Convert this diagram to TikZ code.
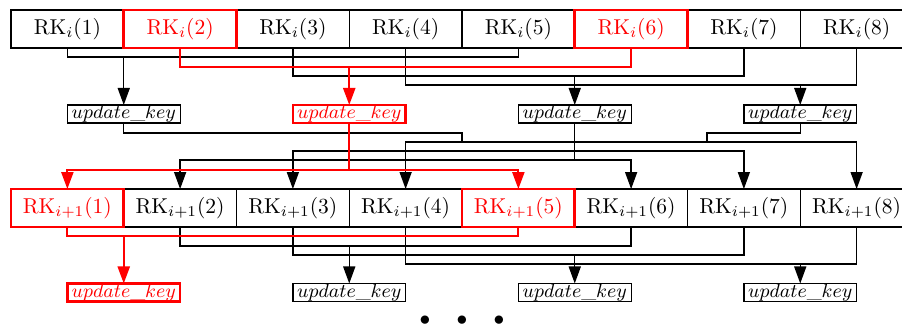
\documentclass[tikz,border=0pt]{standalone}
\usetikzlibrary{arrows.meta,calc}
\begin{document}
\begin{tikzpicture}[x=0.465pt,y=-0.465pt,
  rk/.style={draw,line width=0.65pt,minimum width=52.43pt,minimum height=17.67pt,inner sep=0pt,outer sep=0pt},
  rkred/.style={rk,draw=red,text=red,line width=1.2pt},
  uk/.style={draw,line width=0.65pt,minimum width=52.5pt,minimum height=8.4pt,inner sep=0pt,outer sep=0pt,font=\small},
  ukred/.style={uk,draw=red,text=red,line width=1.2pt},
  wire/.style={line width=0.65pt},
  arr/.style={wire,-{Triangle[length=7.9pt,width=5.6pt]}},
  rwire/.style={red,line width=1pt},
  rarr/.style={rwire,-{Triangle[length=7.9pt,width=5.6pt]}},
]
\useasboundingbox (0,0) rectangle (902,325);
\clip (0,0) rectangle (902,325);
% row i
\foreach \k in {1,3,4,5,7,8}
  \node[rk] (a\k) at ({11+112.75*(\k-0.5)},29) {$\mathrm{RK}_i(\k)$};
\foreach \k in {2,6}
  \node[rkred] (a\k) at ({11+112.75*(\k-0.5)},29) {$\mathrm{RK}_i(\k)$};
% row i+1
\foreach \k in {2,3,4,6,7,8}
  \node[rk] (b\k) at ({11+112.75*(\k-0.5)},208) {$\mathrm{RK}_{i+1}(\k)$};
\foreach \k in {1,5}
  \node[rkred] (b\k) at ({11+112.75*(\k-0.5)},208) {$\mathrm{RK}_{i+1}(\k)$};
% update_key boxes
\node[uk] (u1) at (123.75,114) {$update\_key$};
\node[ukred] (u2) at (349.25,114) {$update\_key$};
\node[uk] (u3) at (574.75,114) {$update\_key$};
\node[uk] (u4) at (800.25,114) {$update\_key$};
\node[ukred] (v1) at (123.75,292.5) {$update\_key$};
\node[uk] (v2) at (349.25,292.5) {$update\_key$};
\node[uk] (v3) at (574.75,292.5) {$update\_key$};
\node[uk] (v4) at (800.25,292.5) {$update\_key$};
% top section
\draw[wire] (a1.south) |- (a5.south |- 0,57) -- (a5.south);
\draw[arr] (u1.north |- 0,57) -- (u1.north);
\draw[wire] (a3.south) |- (a7.south |- 0,76) -- (a7.south);
\draw[arr] (u3.north |- 0,76) -- (u3.north);
\draw[wire] (a4.south) |- (a8.south |- 0,85) -- (a8.south);
\draw[arr] (u4.north |- 0,85) -- (u4.north);
\draw[rwire] (a2.south) |- (a6.south |- 0,67) -- (a6.south);
\draw[rarr] (u2.north |- 0,67) -- (u2.north);
% middle section
\draw[wire] (u3.south) -- (u3.south |- 0,160);
\draw[arr] (u3.south |- 0,160) -| (b2.north);
\draw[arr] (u3.south |- 0,160) -| (b6.north);
\draw[arr] (u3.south |- 0,151) -| (b3.north);
\draw[arr] (u3.south |- 0,151) -| (b7.north);
\draw[wire] (u1.south) |- (b4.east |- 0,133) -- (b4.east |- 0,142);
\draw[arr] (b4.east |- 0,142) -| (b4.north);
\draw[arr] (b4.east |- 0,142) -| (b8.north);
\coordinate (m4) at (707,133);
\draw[wire] (u4.south) |- (m4) -- (m4 |- 0,142);
\draw[rwire] (u2.south) -- (u2.south |- 0,170);
\draw[rarr] (u2.south |- 0,170) -| (b1.north);
\draw[rarr] (u2.south |- 0,170) -| (b5.north);
% bottom section
\draw[wire] (b2.south) |- (b6.south |- 0,246) -- (b6.south);
\draw[arr] (v2.north |- 0,246) -- (v2.north);
\draw[wire] (b3.south) |- (b7.south |- 0,255) -- (b7.south);
\draw[arr] (v3.north |- 0,255) -- (v3.north);
\draw[wire] (b4.south) |- (b8.south |- 0,264) -- (b8.south);
\draw[arr] (v4.north |- 0,264) -- (v4.north);
\draw[rwire] (b1.south) |- (b5.south |- 0,236) -- (b5.south);
\draw[rarr] (v1.north |- 0,236) -- (v1.north);
% continuation dots
\node[inner sep=0pt] (dots) at (462,320.5) {$\bullet$\hspace{12.2pt}$\bullet$\hspace{12.2pt}$\bullet$};
\end{tikzpicture}
\end{document}
